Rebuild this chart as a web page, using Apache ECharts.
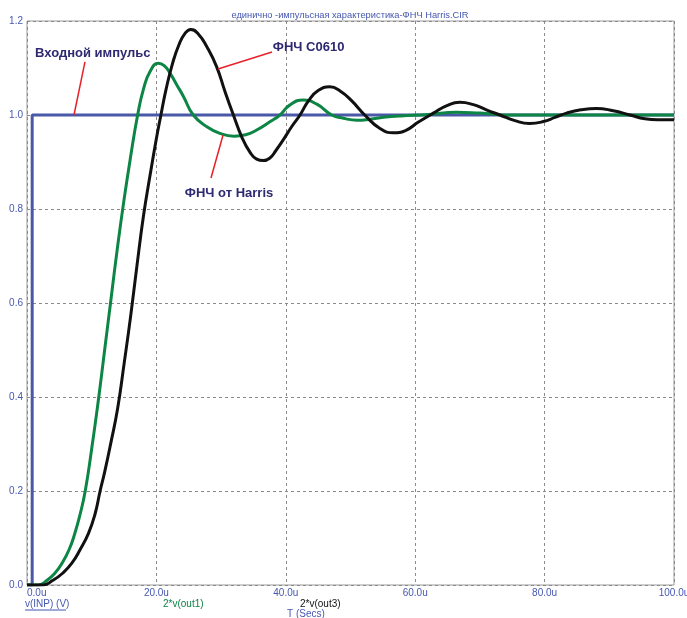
<!DOCTYPE html>
<html><head><meta charset="utf-8">
<script src="https://cdn.jsdelivr.net/npm/echarts@6/dist/echarts.min.js"></script>
<style>html,body{margin:0;padding:0;background:#fff}#c{width:687px;height:618px}</style>
</head><body><div id="c"></div>
<script>
const titleText = 'единично -импульсная характеристика-ФНЧ Harris.CIR';
const xTicks = [0, 20, 40, 60, 80, 100];
const yTicks = [0, 0.2, 0.4, 0.6, 0.8, 1.0, 1.2];
const inpT = [0, 0.8, 0.8, 100];
const inpV = [0, 0, 1, 1];
const out1T = [0, 1.7, 3.1, 4.3, 5.4, 6.5, 7.4, 8.2, 9.0, 10.0, 11.0, 12.0, 13.0, 14.0, 15.0, 16.0, 17.1, 18.0, 19.0, 20.3, 21.2, 22.1, 23.2, 24.2, 25.7, 27.8, 29.8, 32.0, 33.8, 35.5, 37.6, 39.1, 40.6, 42.7, 44.8, 47.1, 48.9, 51.0, 53.0, 55.1, 57.7, 62, 66.4, 70, 75, 80, 90, 100];
const out1V = [0, 0, 0.01, 0.025, 0.046, 0.075, 0.11, 0.15, 0.2, 0.29, 0.39, 0.5, 0.61, 0.72, 0.82, 0.91, 1.0, 1.055, 1.092, 1.11, 1.105, 1.089, 1.063, 1.039, 1.0, 0.975, 0.961, 0.955, 0.958, 0.968, 0.986, 1.0, 1.021, 1.032, 1.023, 1.0, 0.993, 0.989, 0.991, 0.995, 0.998, 1.001, 1.006, 1.004, 1.0, 1.0, 1.0, 1.0];
const out3T = [0, 2.5, 4.0, 5.5, 6.9, 8.2, 9.5, 10.5, 11.3, 12.0, 13.0, 14.0, 15.0, 16.0, 17.0, 18.0, 19.0, 20.0, 20.7, 21.5, 22.5, 23.5, 24.4, 25.3, 26.5, 27.8, 29.3, 30.6, 31.9, 33.2, 34.5, 35.5, 36.5, 37.5, 38.5, 39.6, 40.9, 42.2, 43.5, 45.0, 46.8, 48.5, 50.2, 52.2, 54.5, 56.6, 58.5, 60.5, 62.8, 64.9, 66.9, 69.0, 71.0, 73.1, 75.4, 77.7, 79.8, 81.6, 83.4, 85.6, 88.0, 90.6, 93.2, 95.5, 97.5, 100];
const out3V = [0, 0, 0.01, 0.025, 0.046, 0.075, 0.11, 0.15, 0.2, 0.24, 0.305, 0.375, 0.47, 0.57, 0.68, 0.785, 0.87, 0.95, 1.0, 1.055, 1.11, 1.15, 1.173, 1.182, 1.172, 1.145, 1.103, 1.05, 1.0, 0.953, 0.92, 0.906, 0.903, 0.908, 0.925, 0.947, 0.975, 1.0, 1.03, 1.052, 1.06, 1.05, 1.03, 1.0, 0.972, 0.962, 0.967, 0.985, 1.004, 1.02, 1.027, 1.022, 1.011, 1.0, 0.988, 0.982, 0.986, 0.995, 1.004, 1.011, 1.014, 1.009, 1.0, 0.992, 0.99, 0.99];
const zip = (a, b) => a.map((t, i) => [t, b[i]]);

const blue = '#4557b0', navy = '#2e2970', red = '#e8202a';
const chart = echarts.init(document.getElementById('c'));
const font = 'Liberation Sans, Arial, sans-serif';
chart.setOption({
  animation: false,
  textStyle: { fontFamily: font },
  grid: { left: 27, right: 13, top: 21, bottom: 33, show: true, borderColor: '#9a9a9a', borderWidth: 1, outerBoundsMode: 'none', containLabel: false },
  title: { text: titleText, left: 345, textAlign: 'center', top: 6, textStyle: { fontSize: 9.3, fontWeight: 'normal', color: blue, fontFamily: font } },
  xAxis: {
    type: 'value', min: xTicks[0], max: xTicks[xTicks.length - 1], interval: 20,
    axisLine: { show: false }, axisTick: { show: false },
    axisLabel: { color: blue, fontSize: 10, margin: 3, formatter: v => v.toFixed(1) + 'u', alignMinLabel: 'left' },
    splitLine: { show: true, lineStyle: { color: '#8a8a8a', type: [3, 3], width: 1 } }
  },
  yAxis: {
    type: 'value', min: yTicks[0], max: yTicks[yTicks.length - 1], interval: 0.2,
    axisLine: { show: false }, axisTick: { show: false },
    axisLabel: { color: blue, fontSize: 10, margin: 4, formatter: v => v.toFixed(1) },
    splitLine: { show: true, lineStyle: { color: '#8a8a8a', type: [3, 3], width: 1 } }
  },
  series: [
    { type: 'line', data: zip(inpT, inpV), showSymbol: false, lineStyle: { color: '#4a58a8', width: 3 }, z: 3 },
    { type: 'line', data: zip(out1T, out1V), showSymbol: false, smooth: 0.5, lineStyle: { color: '#0c8545', width: 3 }, z: 4 },
    { type: 'line', data: zip(out3T, out3V), showSymbol: false, smooth: 0.5, lineStyle: { color: '#111111', width: 3 }, z: 5 }
  ]
});

function P(t, v) { return chart.convertToPixel({ gridIndex: 0 }, [t, v]); }
const annFont = 'bold 13px ' + font;
function ann(t, v, text) {
  const p = P(t, v);
  return { type: 'text', x: p[0], y: p[1], style: { text: text, font: annFont, fill: navy, verticalAlign: 'middle', align: 'left' }, z: 20 };
}
function seg(a, b) {
  const p = P(a[0], a[1]), q = P(b[0], b[1]);
  return { type: 'line', shape: { x1: p[0], y1: p[1], x2: q[0], y2: q[1] }, style: { stroke: red, lineWidth: 1.5 }, z: 19 };
}
const smallFont = '10px ' + font;
chart.setOption({
  graphic: [
    ann(1.24, 1.132, 'Входной импульс'),
    seg([8.96, 1.113], [7.26, 1.0]),
    ann(38.0, 1.143, 'ФНЧ C0610'),
    seg([37.87, 1.134], [29.52, 1.098]),
    ann(24.4, 0.834, 'ФНЧ от Harris'),
    seg([28.44, 0.866], [30.29, 0.957]),
    { type: 'text', x: 25, y: 604, style: { text: 'v(INP) (V)', font: smallFont, fill: blue, verticalAlign: 'middle' } },
    { type: 'line', shape: { x1: 25, y1: 610, x2: 66, y2: 610 }, style: { stroke: blue, lineWidth: 1 } },
    { type: 'text', x: 163, y: 604, style: { text: '2*v(out1)', font: smallFont, fill: '#0c8545', verticalAlign: 'middle' } },
    { type: 'text', x: 300, y: 604, style: { text: '2*v(out3)', font: smallFont, fill: '#111', verticalAlign: 'middle' } },
    { type: 'text', x: 287, y: 614, style: { text: 'T (Secs)', font: smallFont, fill: blue, verticalAlign: 'middle' } }
  ]
});
</script></body></html>
